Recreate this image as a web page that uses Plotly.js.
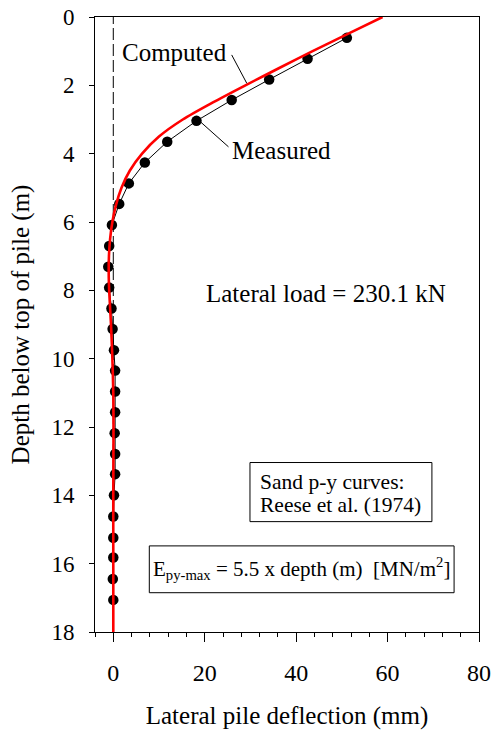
<!DOCTYPE html>
<html>
<head>
<meta charset="utf-8">
<script src="https://cdn.plot.ly/plotly-3.0.1.min.js"></script>
<style>html,body{margin:0;padding:0;background:#fff;}#chart{width:492px;height:732px;}</style>
</head>
<body>
<div id="chart"></div>
<script>
// Measured deflections (mm) at depths (m)
const measuredDepth = [0.61,1.22,1.83,2.43,3.04,3.65,4.26,4.87,5.47,6.09,6.70,7.31,7.92,8.53,9.13,9.75,10.35,10.96,11.57,12.18,12.79,13.38,14.0,14.62,15.24,15.82,16.45,17.06];
const measuredDefl  = [51.1,42.5,34.1,25.9,18.2,11.8,6.9,3.4,1.3,-0.3,-0.9,-1.1,-0.9,-0.4,-0.15,0.15,0.4,0.4,0.4,0.3,0.4,0.4,0.15,0,0,0,-0.1,0];
// Computed curve
const computedDepth = [0,0.5,1.0,1.5,2.0,2.5,3.0,3.5,4.0,4.5,5.0,5.5,6.0,6.5,7.0,7.5,8.0,9.0,10.0,11.0,12.0,14.0,16.0,18.0];
const computedDefl  = [58.9,51.2,43.6,36.2,28.9,21.8,15.2,10.0,6.3,3.6,1.8,0.6,-0.2,-0.7,-0.95,-1.0,-0.9,-0.5,-0.2,0,0.05,0,0,0];

const serif = "Times New Roman, Liberation Serif, serif";

const traces = [
  {x: measuredDefl, y: measuredDepth, mode: 'lines+markers', type: 'scatter',
   line: {color: '#000', width: 1}, marker: {color: '#000', size: 10.5}, showlegend: false, hoverinfo: 'skip'},
  {x: computedDefl, y: computedDepth, mode: 'lines', type: 'scatter',
   line: {color: '#ff0000', width: 2.6, shape: 'spline', smoothing: 0.8}, showlegend: false, hoverinfo: 'skip'}
];

const layout = {
  width: 492, height: 732,
  margin: {l: 95, r: 13, t: 17, b: 100},
  paper_bgcolor: '#fff', plot_bgcolor: '#fff',
  font: {family: serif, size: 24, color: '#000'},
  showlegend: false,
  xaxis: {
    range: [-4, 80], tickvals: [0,20,40,60,80], ticks: 'outside', ticklen: 9, tickwidth: 1, tickcolor: '#000',
    minor: {dtick: 4, tick0: 0, ticks: 'outside', ticklen: 4, tickcolor: '#000'},
    showline: true, linecolor: '#000', linewidth: 1, mirror: true, showgrid: false, zeroline: false,
    ticklabelstandoff: 10, tickfont: {family: serif, size: 24},
    title: {text: 'Lateral pile deflection (mm)', font: {family: serif, size: 25}, standoff: 21}
  },
  yaxis: {
    range: [18, 0], tickvals: [0,2,4,6,8,10,12,14,16,18], ticks: 'outside', ticklen: 5, tickwidth: 1, tickcolor: '#000',
    showline: true, linecolor: '#000', linewidth: 1, mirror: true, showgrid: false, zeroline: false,
    ticklabelstandoff: 10, tickfont: {family: serif, size: 23},
    title: {text: 'Depth below top of pile (m)', font: {family: serif, size: 25}, standoff: 14}
  },
  shapes: [
    {type: 'line', xref: 'x', yref: 'paper', x0: 0, x1: 0, y0: 0, y1: 1, layer: 'below',
     line: {color: '#000', width: 1, dash: '12px,4px'}},
    {type: 'line', xref: 'x', yref: 'y', x0: 25.9, y0: 1.11, x1: 29.2, y1: 1.94, line: {color: '#000', width: 1}},
    {type: 'line', xref: 'x', yref: 'y', x0: 25.2, y0: 3.80, x1: 19.0, y1: 3.06, line: {color: '#000', width: 1}},
    {type: 'rect', xref: 'x', yref: 'y', x0: 29.9, x1: 69.7, y0: 13.04, y1: 14.77, line: {color: '#000', width: 1}, fillcolor: '#fff'},
    {type: 'rect', xref: 'x', yref: 'y', x0: 7.88, x1: 74.55, y0: 15.48, y1: 16.85, line: {color: '#000', width: 1}, fillcolor: '#fff'}
  ],
  annotations: [
    {xref: 'x', yref: 'y', x: 13.4, y: 1.05, text: 'Computed', showarrow: false, font: {family: serif, size: 25}},
    {xref: 'x', yref: 'y', x: 36.8, y: 3.91, text: 'Measured', showarrow: false, font: {family: serif, size: 25}},
    {xref: 'x', yref: 'y', x: 46.5, y: 8.09, text: 'Lateral load = 230.1 kN', showarrow: false, font: {family: serif, size: 25}},
    {xref: 'x', yref: 'y', x: 31.7, y: 13.6, xanchor: 'left', text: 'Sand p-y curves:', showarrow: false, font: {family: serif, size: 21.5}},
    {xref: 'x', yref: 'y', x: 31.7, y: 14.28, xanchor: 'left', text: 'Reese et al. (1974)', showarrow: false, font: {family: serif, size: 21.5}},
    {xref: 'x', yref: 'y', x: 41.1, y: 16.13, text: 'E<sub>py-max</sub> = 5.5 x depth (m)\u00A0\u00A0[MN/m<sup>2</sup>]', showarrow: false,
     font: {family: serif, size: 21}}
  ]
};

Plotly.newPlot('chart', traces, layout, {staticPlot: true, displayModeBar: false});
</script>
</body>
</html>
